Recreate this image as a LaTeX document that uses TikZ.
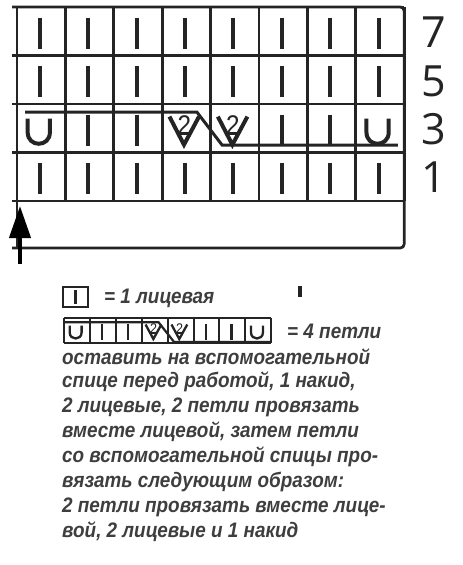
\documentclass[tikz,border=0pt]{standalone}
\usepackage{fontspec}
\setmainfont{Liberation Sans}
\newfontfamily\notefont[FakeStretch=0.9]{Liberation Sans}
\newfontfamily\rowfont{Open Sans}
\usetikzlibrary{arrows.meta}

\begin{document}
\begin{tikzpicture}[x=1pt,y=-1pt,
    grid/.style={line width=2.7pt,draw=ink},
    sym/.style={line width=4pt,draw=ink},
    thin sym/.style={line width=2pt,draw=ink},
    cable/.style={line width=3pt,draw=ink},
    two/.style={anchor=south,inner sep=0pt,text=ink,font=\notefont\fontsize{27}{27}\selectfont},
    rownum/.style={inner sep=0pt,text=ink,font=\rowfont\fontsize{43}{43}\selectfont},
    note/.style={anchor=west,inner sep=0pt,text=ink!88,font=\notefont\bfseries\itshape\fontsize{21}{21}\selectfont}]
  \colorlet{ink}{black!86}

  % cell symbols, in cell units
  \def\knit#1{\draw[sym] ({#1+0.47},0.22) -- ({#1+0.47},0.86);}
  \def\yarnover#1{\draw[sym] ({#1+0.22},0.3) -- ({#1+0.22},0.58)
    .. controls ({#1+0.22},0.9) and ({#1+0.68},0.9) .. ({#1+0.68},0.58) -- ({#1+0.68},0.3);}
  \def\knittwo#1#2{\draw[sym] ({#1+0.15},0.26) -- ({#1+0.45},0.84) -- ({#1+0.76},0.26);
    \draw[thin sym] ({#1+0.31},0.62) -- ({#1+0.6},0.62);
    \node[two] (#2) at ({#1+0.46},0.63) {2};}
  \def\cablerow#1{\yarnover{0} \knit{1} \knit{2} \knittwo{3}{#1a} \knittwo{4}{#1b}
    \knit{5} \knit{6} \yarnover{7}}

  \useasboundingbox (0,0) rectangle (463,565);

  % chart
  \begin{scope}[shift={(17,7)},x=48.4pt,y=-48.5pt]
    \foreach \r in {0,...,4}
      \draw[grid] (-0.1,\r) -- (8,\r);
    \foreach \c in {0,...,8}
      \draw[grid] (\c,0) -- (\c,4);
    \draw[grid] (0,0) -- (0,4.97);
    \draw[grid,rounded corners=4pt] (-0.1,0) -- (8,0) -- (8,4.97) -- (-0.1,4.97);
    \foreach \r in {0,1,3} {
      \begin{scope}[shift={(0,\r)}]
        \foreach \c in {0,...,7} {\knit{\c}}
      \end{scope}
    }
    \begin{scope}[shift={(0,2)}]
      \cablerow{chart}
      \draw[cable] (0.17,0.17) -- (3.72,0.17) -- (4.24,0.85) -- (7.87,0.85);
    \end{scope}
  \end{scope}

  \node[rownum] (row7) at (434,32) {7};
  \node[rownum] (row5) at (434,81) {5};
  \node[rownum] (row3) at (434,129) {3};
  \node[rownum] (row1) at (434,177) {1};

  \coordinate (arrow tail) at (20,264);
  \coordinate (arrow tip) at (20,206);
  \draw[line width=4pt,black,-{Triangle[length=32pt,width=21pt]}] (arrow tail) -- (arrow tip);

  % key
  \draw[grid,line width=2.2pt] (63,287) rectangle (88,307);
  \draw[line width=3pt,ink] (75.5,290) -- (75.5,304);
  \node[note] (knit key) at (104,298) {= 1 лицевая};
  \draw[line width=4pt,ink] (300,286) -- (300,297);

  \begin{scope}[shift={(64,318)},x=25.9pt,y=-25pt,
      grid/.style={line width=2pt,draw=ink},
      sym/.style={line width=2.3pt,draw=ink},
      thin sym/.style={line width=1.2pt,draw=ink},
      cable/.style={line width=2.2pt,draw=ink},
      two/.style={anchor=south,inner sep=0pt,text=ink,font=\notefont\fontsize{14}{14}\selectfont}]
    \foreach \c in {0,...,8}
      \draw[grid] (\c,0) -- (\c,1);
    \draw[grid] (0,0) -- (8,0);
    \draw[grid] (0,1) -- (8,1);
    \cablerow{key}
    \draw[cable] (0,0.17) -- (3.65,0.17) -- (4.25,0.96) -- (7.96,0.96);
  \end{scope}
  \node[note] (cable key) at (287,331) {= 4 петли};

  \foreach \txt [count=\i from 0] in {{оставить на вспомогательной},
      {спице перед работой, 1 накид,}, {2 лицевые, 2 петли провязать},
      {вместе лицевой, затем петли}, {со вспомогательной спицы про-},
      {вязать следующим образом:}, {2 петли провязать вместе лице-},
      {вой, 2 лицевые и 1 накид}}
    \node[note] (line\i) at (62,{357+25*\i}) {\txt};
\end{tikzpicture}
\end{document}
